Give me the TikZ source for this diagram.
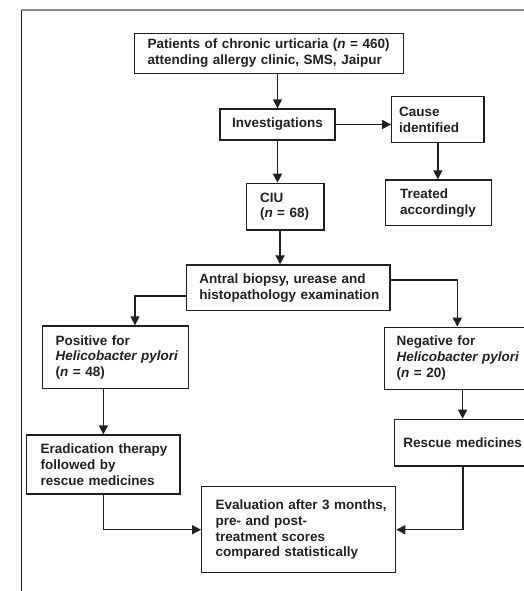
\documentclass[tikz,border=0pt]{standalone}
\usepackage{fontspec}
\setmainfont{Liberation Sans}
\usetikzlibrary{arrows.meta}
\definecolor{ink}{HTML}{231F20}
\definecolor{framegray}{HTML}{8A8A8A}
\newcommand{\mkline}[1]{\mbox{#1}}
\tikzset{
  bx/.style n args={4}{draw=ink, line width=1.3pt, text=ink,
    font=\fontsize{13.5}{15.8}\selectfont\bfseries,
    align=left, inner ysep=2pt,
    minimum width=#1, minimum height=#2, inner xsep=#3, text width=#4},
  arr/.style={draw=ink, line width=1.4pt, -{Triangle[length=9pt,width=9pt]}}
}
\begin{document}
\begin{tikzpicture}[x=1pt,y=-1pt]
\useasboundingbox (0,0) rectangle (524,591);
\clip (0,0) rectangle (524,591);
% frame
\draw[framegray, line width=1.2pt] (21.7,10) -- (524,10);
\draw[ink, line width=1.3pt] (21.7,10) -- (21.7,591);

\node[bx={268.6pt}{40pt}{13pt}{242.6pt}] (pat) at (269,53.3)
  {\mkline{Patients of chronic urticaria (\textit{n} = 460)}\\\mkline{attending allergy clinic, SMS, Jaipur}};
\node[draw=ink, line width=1.3pt, text=ink, font=\fontsize{13.5}{15.8}\selectfont\bfseries,
  minimum width=115pt, minimum height=31pt, inner sep=2pt] (inv) at (277.5,124.5) {Investigations};
\node[bx={92.3pt}{45.6pt}{7.3pt}{77.7pt}] (cause) at (437.85,119.5)
  {\mkline{Cause}\\\mkline{identified}};
\node[bx={106pt}{45.7pt}{14.3pt}{77.4pt}] (treat) at (438.7,202.85)
  {\mkline{Treated}\\\mkline{accordingly}};
\node[bx={77.3pt}{46.7pt}{13.3pt}{50.7pt}] (ciu) at (285.35,206.65)
  {\mkline{CIU}\\\mkline{(\textit{n} = 68)}};
\node[bx={203.3pt}{45.7pt}{12.6pt}{178.1pt}] (antral) at (288.35,287.85)
  {\mkline{Antral biopsy, urease and}\\\mkline{histopathology examination}};
\node[bx={146pt}{62.7pt}{13.4pt}{119.2pt}] (pos) at (115.3,357.35)
  {\mkline{Positive for}\\\mkline{\textit{Helicobacter pylori}}\\\mkline{(\textit{n} = 48)}};
\node[bx={146pt}{62pt}{12.4pt}{121.2pt}] (neg) at (457.3,358.3)
  {\mkline{Negative for}\\\mkline{\textit{Helicobacter pylori}}\\\mkline{(\textit{n} = 20)}};
\node[bx={153.3pt}{59pt}{14pt}{125.3pt}] (erad) at (103.35,464.5)
  {\mkline{Eradication therapy}\\\mkline{followed by}\\\mkline{rescue medicines}};
\node[bx={137.7pt}{46.7pt}{9pt}{119.7pt}] (resc) at (463.15,442.65)
  {\mkline{Rescue medicines}};
\node[bx={194pt}{86pt}{14pt}{166pt}] (eval) at (298.7,529.7)
  {\mkline{Evaluation after 3 months,}\\\mkline{pre- and post-}\\\mkline{treatment scores}\\\mkline{compared statistically}};

% connectors
\draw[arr] (inv.north |- pat.south) -- (inv.north);
\draw[arr] (inv.east) -- (cause.west |- inv.east);
\draw[arr] (cause.south) -- (cause.south |- treat.north);
\draw[arr] (inv.south) -- (inv.south |- ciu.north);
\draw[arr] ([xshift=-5.3pt]ciu.south) -- ([xshift=-5.3pt]ciu.south |- antral.north);
\draw[arr] ([yshift=-8pt]antral.west) -| ([xshift=19.7pt]pos.north);
\draw[arr] ([yshift=8pt]antral.east) -| (neg.north);
\draw[arr] (erad.north |- pos.south) -- (erad.north);
\draw[arr] ([xshift=5.3pt]neg.south) -- ([xshift=5.3pt]neg.south |- resc.north);
\draw[arr] (erad.south) |- (eval.west);
\draw[arr] (resc.south) |- (eval.east);
\end{tikzpicture}
\end{document}
